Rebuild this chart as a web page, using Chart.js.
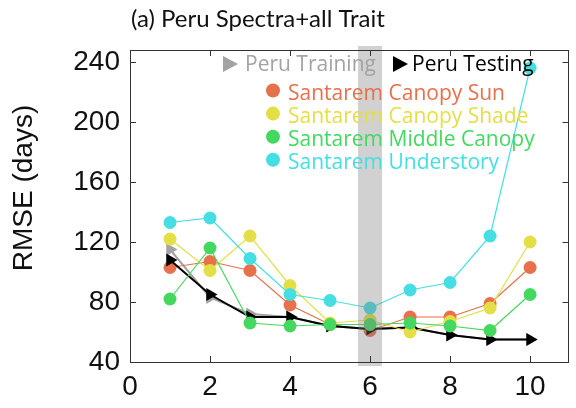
<!DOCTYPE html>
<html>
<head>
<meta charset="utf-8">
<script src="https://cdn.jsdelivr.net/npm/chart.js@4/dist/chart.umd.min.js"></script>
<style>
  html, body { margin: 0; padding: 0; background: #fff; }
  #wrap { width: 576px; height: 408px; }
</style>
</head>
<body>
<div id="wrap"><canvas id="rmseChart" width="576" height="408"></canvas></div>
<script>
// number of components on the x axis
var components = [1, 2, 3, 4, 5, 6, 7, 8, 9, 10];

// RMSE (days) per site
var peruTraining = [115, 83, 72, 70, 64, 62, 63, 58, 55, 55];
var peruTesting = [108, 85, 70, 70, 64, 62, 63, 58, 55, 55];
var canopySun = [103, 107, 101, 78, 65, 61, 70, 70, 79, 103];
var canopyShade = [122, 101, 124, 91, 66, 68, 60, 67, 76, 120];
var middleCanopy = [82, 116, 66, 64, 65, 65, 66, 64, 61, 85];
var understory = [133, 136, 109, 85, 81, 76, 88, 93, 124, 236];

var xTicks = [0, 2, 4, 6, 8, 10];
var yTicks = [40, 80, 120, 160, 200, 240];

var titleText = '(a) Peru Spectra+all Trait';
var yTitle = 'RMSE (days)';

var colSun = '#e8704a';
var colShade = '#e3df45';
var colMiddle = '#45d85e';
var colUnder = '#45dfe3';
var colTrain = '#a3a3a3';
var colTest = '#000000';

function pts(vals) {
  return vals.map(function (v, i) { return { x: components[i], y: v }; });
}

function circleSet(label, vals, col, order) {
  return {
    label: label, data: pts(vals), order: order,
    borderColor: col, backgroundColor: col, borderWidth: 1.2,
    pointStyle: 'circle', pointRadius: 6.5, pointBorderWidth: 0,
    pointBackgroundColor: col
  };
}

function triangleSet(label, vals, col, order) {
  return {
    label: label, data: pts(vals), order: order,
    borderColor: col, backgroundColor: col, borderWidth: 2,
    pointStyle: 'triangle', pointRotation: 90, pointRadius: 7.5, pointBorderWidth: 0,
    pointBackgroundColor: col
  };
}

// frame, inward ticks, titles, legend and the highlighted band
var decorations = {
  id: 'decorations',
  afterDraw: function (chart) {
    var c = chart.ctx, a = chart.chartArea;
    var xs = chart.scales.x, ys = chart.scales.y;
    c.save();

    // highlighted band at 6 components
    var b0 = xs.getPixelForValue(5.7), b1 = xs.getPixelForValue(6.3);
    c.fillStyle = 'rgba(128,128,128,0.36)';
    c.fillRect(b0, a.top - 4, b1 - b0, a.bottom - a.top + 8);

    // box
    c.strokeStyle = '#333';
    c.lineWidth = 1;
    c.strokeRect(Math.round(a.left) + 0.5, Math.round(a.top) + 0.5,
      Math.round(a.right - a.left) - 1, Math.round(a.bottom - a.top));

    c.beginPath();
    xTicks.forEach(function (t) {
      var px = Math.round(xs.getPixelForValue(t)) + 0.5;
      c.moveTo(px, a.bottom); c.lineTo(px, a.bottom - 6);
      c.moveTo(px, a.top); c.lineTo(px, a.top + 6);
    });
    yTicks.forEach(function (t) {
      var py = Math.round(ys.getPixelForValue(t)) + 0.5;
      c.moveTo(a.left, py); c.lineTo(a.left + 6, py);
      c.moveTo(a.right, py); c.lineTo(a.right - 6, py);
    });
    c.stroke();

    // title
    c.fillStyle = '#111';
    c.font = '24px Lato, sans-serif';
    c.textBaseline = 'alphabetic';
    c.textAlign = 'left';
    c.fillText(titleText, 131, 27);

    // y axis title
    c.save();
    c.translate(24, 188);
    c.rotate(-Math.PI / 2);
    c.textAlign = 'center';
    c.textBaseline = 'middle';
    c.font = '28px "Liberation Sans", Arial, sans-serif';
    c.fillText(yTitle, 0, 0);
    c.restore();

    // legend
    c.font = '21px "Open Sans", sans-serif';
    c.textAlign = 'left';
    function tri(x, y, col) {
      c.fillStyle = col;
      c.beginPath();
      c.moveTo(x - 7, y - 8); c.lineTo(x + 8, y); c.lineTo(x - 7, y + 8);
      c.closePath(); c.fill();
    }
    tri(230, 64, colTrain);
    c.fillStyle = colTrain;
    c.fillText('Peru Training', 245, 71);
    tri(400, 64, colTest);
    c.fillStyle = colTest;
    c.fillText('Peru Testing', 412, 71);

    var rows = [
      ['Santarem Canopy Sun', colSun],
      ['Santarem Canopy Shade', colShade],
      ['Santarem Middle Canopy', colMiddle],
      ['Santarem Understory', colUnder]
    ];
    rows.forEach(function (r, i) {
      var base = 100 + i * 23.1;
      c.fillStyle = r[1];
      c.beginPath(); c.arc(273, base - 9.5, 7, 0, Math.PI * 2); c.fill();
      c.fillText(r[0], 288, base);
    });

    c.restore();
  }
};

var ctx = document.getElementById('rmseChart').getContext('2d');

var chart = new Chart(ctx, {
  type: 'line',
  data: {
    datasets: [
      triangleSet('Peru Training', peruTraining, colTrain, 6),
      circleSet('Santarem Canopy Sun', canopySun, colSun, 5),
      triangleSet('Peru Testing', peruTesting, colTest, 4),
      circleSet('Santarem Canopy Shade', canopyShade, colShade, 3),
      circleSet('Santarem Middle Canopy', middleCanopy, colMiddle, 2),
      circleSet('Santarem Understory', understory, colUnder, 1)
    ]
  },
  options: {
    responsive: false,
    animation: false,
    layout: { padding: { top: 50, right: 2, left: 0, bottom: 0 } },
    plugins: {
      legend: { display: false },
      title: { display: false },
      tooltip: { enabled: false }
    },
    scales: {
      x: {
        type: 'linear', min: 0, max: 10.96,
        grid: { display: false, drawTicks: false },
        border: { display: false },
        afterBuildTicks: function (s) { s.ticks = xTicks.map(function (v) { return { value: v }; }); },
        afterFit: function (s) { s.height = 46; },
        ticks: {
          padding: 8, color: '#111',
          font: { family: '"Liberation Sans", Arial, sans-serif', size: 28 }
        }
      },
      y: {
        min: 40, max: 248,
        grid: { display: false, drawTicks: false },
        border: { display: false },
        afterBuildTicks: function (s) { s.ticks = yTicks.map(function (v) { return { value: v }; }); },
        afterFit: function (s) { s.width = 130; },
        ticks: {
          padding: 10, color: '#111',
          font: { family: '"Liberation Sans", Arial, sans-serif', size: 28 }
        }
      }
    }
  },
  plugins: [decorations]
});
</script>
</body>
</html>
